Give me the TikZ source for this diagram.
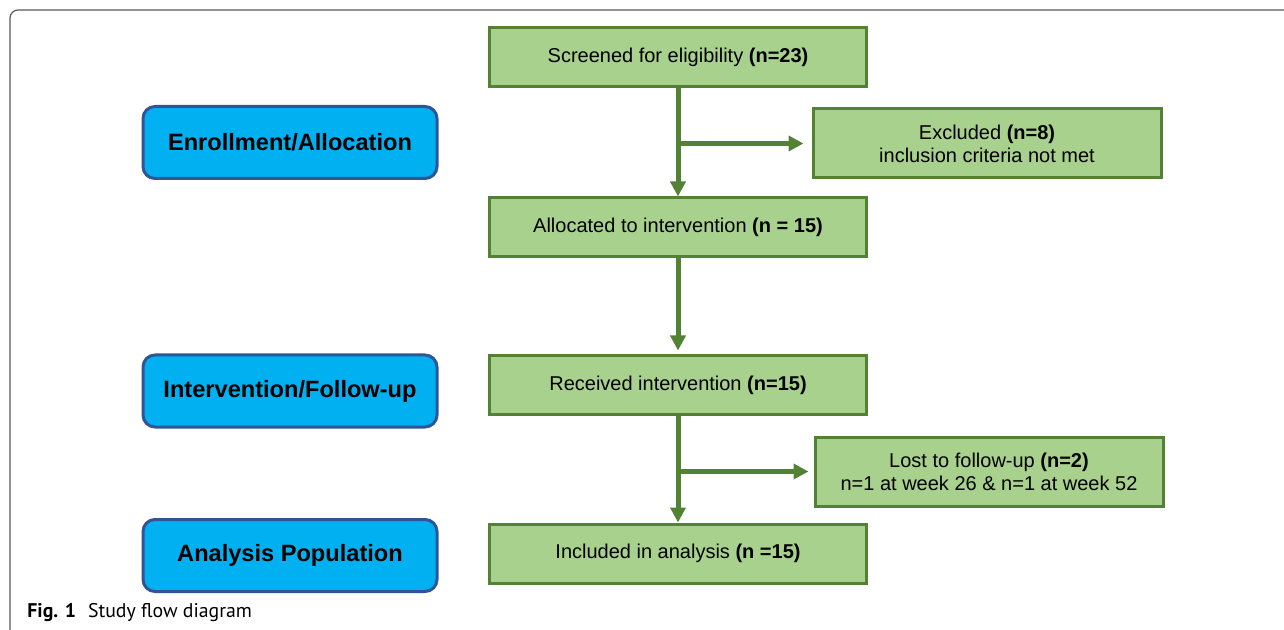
\documentclass[tikz,border=0pt]{standalone}
\usepackage{fontspec}
\setmainfont{Liberation Sans}
\newfontfamily\capfont{PT Sans}
\usetikzlibrary{arrows.meta}
\definecolor{boxgreen}{HTML}{A9D18E}
\definecolor{linegreen}{HTML}{548235}
\definecolor{boxblue}{HTML}{00B0F0}
\definecolor{lineblue}{HTML}{2F5597}

\begin{document}
\begin{tikzpicture}[x=0.5pt, y=-0.5pt,
    greenbox/.style={rectangle, draw=linegreen, fill=boxgreen, line width=1.5pt,
        minimum width=188.5pt, minimum height=29.5pt, align=center,
        font=\fontsize{10pt}{11.5pt}\selectfont},
    sidebox/.style={greenbox, minimum width=174pt, minimum height=34.5pt},
    bluebox/.style={rectangle, rounded corners=6pt, draw=lineblue, fill=boxblue,
        line width=1.5pt, minimum width=147pt, minimum height=36pt,
        font=\fontsize{11.8pt}{14pt}\selectfont\bfseries},
    flow/.style={draw=linegreen, line width=2.5pt, -{Triangle[width=7.5pt, length=7.5pt]}}]
    \useasboundingbox (0,0) rectangle (1284,630);
    \draw[black!65, line width=0.6pt, rounded corners=4pt] (10,630) -- (10,10) -- (1284,10);
    % stages
    \node[bluebox] (enrol) at (290,142.5) {Enrollment/Allocation};
    \node[bluebox] (interv) at (290,391) {Intervention/Follow-up};
    \node[bluebox] (analys) at (290,555.5) {Analysis Population};
    % main flow
    \node[greenbox] (screen) at (678,57.5) {Screened for eligibility \textbf{(n=23)}};
    \node[sidebox] (excl) at (987,143.5) {Excluded \textbf{(n=8)}\\inclusion criteria not met};
    \node[greenbox] (alloc) at (678,227.5) {Allocated to intervention \textbf{(n = 15)}};
    \node[greenbox, minimum height=29pt] (recv) at (678,385) {Received intervention \textbf{(n=15)}};
    \node[sidebox] (lost) at (989,471.5) {Lost to follow-up \textbf{(n=2)}\\n=1 at week 26 \& n=1 at week 52};
    \node[greenbox] (incl) at (678,553.5) {Included in analysis \textbf{(n =15)}};
    \draw[flow] (screen) -- (alloc);
    \draw[flow, shorten >=4pt] (screen.south |- excl.west) -- (excl.west);
    \draw[flow, shorten >=2pt] (alloc) -- (recv);
    \draw[flow] (recv) -- (incl);
    \draw[flow, shorten >=2.5pt] (recv.south |- lost.west) -- (lost.west);
    % caption
    \node[anchor=base west, inner sep=0pt, font=\capfont\fontsize{9.9pt}{11pt}\selectfont] (cap) at (27,617)
        {\textbf{Fig. 1}\hspace{0.6em}Study flow diagram};
\end{tikzpicture}
\end{document}
